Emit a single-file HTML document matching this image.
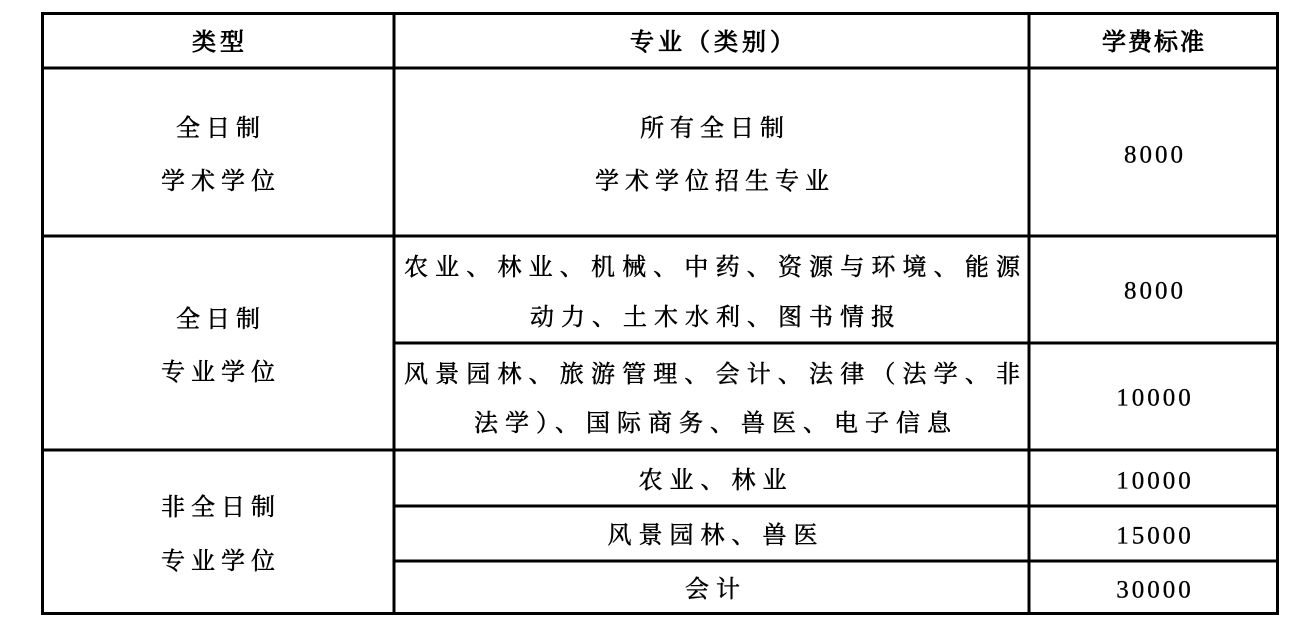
<!DOCTYPE html>
<html><head><meta charset="utf-8"><style>
html,body{margin:0;padding:0;background:#fff;}
svg{display:block}
text{font-family:"Liberation Serif","Noto Serif CJK SC","Noto Sans CJK SC",serif;font-size:24px;fill:#000;stroke:#000;stroke-width:0.5px;dominant-baseline:central;text-anchor:middle}
.n{font-family:"Liberation Serif",serif;letter-spacing:3px;font-size:25px;stroke-width:0.3px}
.h{stroke-width:0.9px}
</style></head><body>
<svg width="1314" height="640" viewBox="0 0 1314 640">
<g stroke="#000" stroke-width="3" fill="none">
<rect x="42.5" y="13.5" width="1235" height="600"/>
<line x1="394" y1="13" x2="394" y2="614"/>
<line x1="1029" y1="13" x2="1029" y2="614"/>
<line x1="42" y1="68" x2="1278" y2="68"/>
<line x1="42" y1="236" x2="1278" y2="236"/>
<line x1="394" y1="343" x2="1278" y2="343"/>
<line x1="42" y1="450" x2="1278" y2="450"/>
<line x1="394" y1="506" x2="1278" y2="506"/>
<line x1="394" y1="561" x2="1278" y2="561"/>
</g>
<text x="220" y="43" class="h" style="letter-spacing:4px">类型</text>
<text x="714" y="43" class="h" style="letter-spacing:4px">专业（类别）</text>
<text x="1154" y="43" class="h" style="letter-spacing:2px">学费标准</text>

<text x="221" y="129" style="letter-spacing:6px">全日制</text>
<text x="221" y="182" style="letter-spacing:6px">学术学位</text>
<text x="715" y="129" style="letter-spacing:6px">所有全日制</text>
<text x="715" y="182" style="letter-spacing:6px">学术学位招生专业</text>
<text x="1155" y="155" class="n">8000</text>

<text x="221" y="320" style="letter-spacing:6px">全日制</text>
<text x="221" y="373" style="letter-spacing:6px">专业学位</text>
<text x="712" y="268" textLength="616" lengthAdjust="spacing">农业、林业、机械、中药、资源与环境、能源</text>
<text x="716" y="318" style="letter-spacing:7px">动力、土木水利、图书情报</text>
<text x="1155" y="291" class="n">8000</text>
<text x="712" y="375" textLength="616" lengthAdjust="spacing">风景园林、旅游管理、会计、法律（法学、非</text>
<text x="716" y="424" style="letter-spacing:7px">法学）、国际商务、兽医、电子信息</text>
<text x="1155" y="398" class="n">10000</text>

<text x="221" y="508" style="letter-spacing:6px">非全日制</text>
<text x="221" y="562" style="letter-spacing:6px">专业学位</text>
<text x="716" y="481" style="letter-spacing:7px">农业、林业</text>
<text x="1155" y="481" class="n">10000</text>
<text x="716" y="536" style="letter-spacing:7px">风景园林、兽医</text>
<text x="1155" y="536" class="n">15000</text>
<text x="716" y="590" style="letter-spacing:7px">会计</text>
<text x="1155" y="590" class="n">30000</text>
</svg>
</body></html>
